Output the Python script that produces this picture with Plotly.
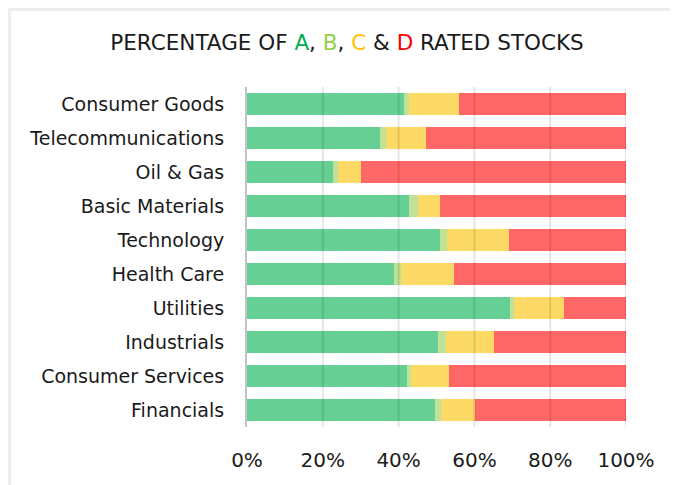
import plotly.graph_objects as go

categories = ["Consumer Goods", "Telecommunications", "Oil & Gas", "Basic Materials",
              "Technology", "Health Care", "Utilities", "Industrials",
              "Consumer Services", "Financials"]
rated_a = [41.4, 35.0, 22.7, 42.7, 50.8, 38.7, 69.3, 50.3, 42.2, 49.5]
rated_b = [1.3, 1.8, 1.3, 2.4, 2.1, 1.9, 1.1, 2.2, 1.0, 1.7]
rated_c = [13.3, 10.5, 6.0, 5.7, 16.1, 14.0, 13.2, 12.8, 10.0, 9.0]
rated_d = [44.0, 52.7, 70.0, 49.2, 31.0, 45.4, 16.4, 34.7, 46.8, 39.8]
tick_vals = [0, 20, 40, 60, 80, 100]
tick_text = ["0%", "20%", "40%", "60%", "80%", "100%"]

series = [("A", rated_a, "#66CF94"), ("B", rated_b, "#C0E296"),
          ("C", rated_c, "#FDD966"), ("D", rated_d, "#FF6666")]

fig = go.Figure()
for name, vals, col in series:
    fig.add_trace(go.Bar(y=categories, x=vals, name=name, orientation="h",
                         marker=dict(color=col, line=dict(width=0)),
                         hoverinfo="skip"))

title = ('PERCENTAGE OF <span style="color:#00B050">A</span>, '
         '<span style="color:#92D050">B</span>, '
         '<span style="color:#FFC000">C</span> &amp; '
         '<span style="color:#FF0000">D</span> RATED STOCKS')

shapes = [dict(type="rect", xref="paper", yref="paper", x0=-0.6266, x1=1.3,
               y0=-0.3, y1=1.228, line=dict(color="#eeeeee", width=3),
               layer="below")]
for v in tick_vals[1:]:
    shapes.append(dict(type="line", xref="x", yref="paper", x0=v, x1=v, y0=0, y1=1,
                       line=dict(color="rgba(0,0,0,0.1)", width=2), layer="above"))

fig.update_layout(
    width=678, height=485,
    barmode="stack", bargap=0.35,
    showlegend=False,
    plot_bgcolor="white", paper_bgcolor="white",
    margin=dict(l=239, r=60, t=79, b=66),
    font=dict(family="DejaVu Sans", color="#1a1a1a"),
    title=dict(text=title, x=0.5, xref="container", xanchor="center",
               y=1 - 34 / 485, yref="container", yanchor="middle",
               font=dict(size=21.5, color="#1a1a1a", family="DejaVu Sans")),
    xaxis=dict(range=[0, 100], tickvals=tick_vals, ticktext=tick_text,
               showgrid=False, zeroline=False, showline=False, ticks="",
               tickfont=dict(size=20), ticklabelstandoff=19, fixedrange=True),
    yaxis=dict(categoryorder="array", categoryarray=categories[::-1],
               showgrid=False, zeroline=False, showline=True,
               linecolor="#c4c4c4", linewidth=2, ticks="",
               tickfont=dict(size=19), ticklabelstandoff=17, fixedrange=True),
    shapes=shapes,
)

fig.write_html("out.html")
